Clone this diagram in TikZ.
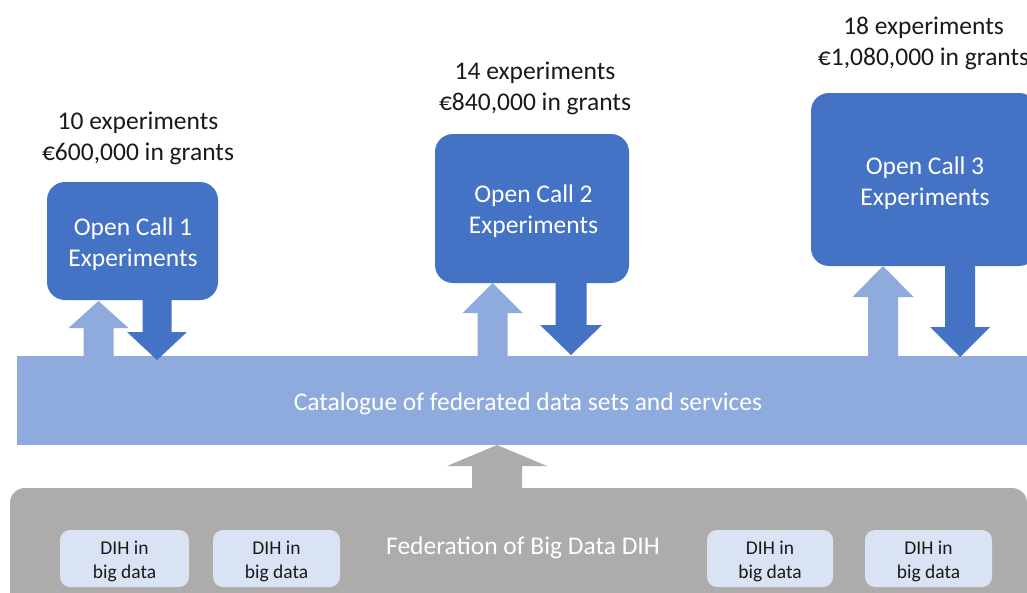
\documentclass[tikz,border=0pt]{standalone}
\usepackage{fontspec}
\setmainfont{Carlito}
\definecolor{darkblue}{HTML}{4472C4}
\definecolor{lightblue}{HTML}{8FAADC}
\definecolor{fedgray}{HTML}{AEABAB}
\definecolor{dihfill}{HTML}{DAE3F3}
\definecolor{labeltext}{HTML}{1A1A1A}
\tikzset{
  callbox/.style={draw=none, fill=darkblue, rounded corners=18pt, inner sep=0pt},
  dihbox/.style={draw=none, fill=dihfill, rounded corners=10pt, inner sep=0pt, minimum height=57pt},
  dihtext/.style={text=labeltext, align=center, font=\fontsize{19.5}{24}\selectfont, inner sep=0pt},
  infolabel/.style={text=labeltext, align=center, font=\fontsize{25.5}{31}\selectfont, inner sep=0pt},
  bigtext/.style={text=white, align=center, font=\fontsize{25.5}{31}\selectfont, inner sep=0pt},
  uparrow/.style={fill=lightblue, draw=none},
  downarrow/.style={fill=darkblue, draw=none},
  grayarrow/.style={fill=fedgray, draw=none}
}
\begin{document}
\begin{tikzpicture}[x=1pt,y=-1pt]
\useasboundingbox (0,0) rectangle (1027,592);
\clip (0,0) rectangle (1027,592);
\fill[white] (0,0) rectangle (1027,592);
% federation base
\fill[fedgray, rounded corners=15pt] (10,488) rectangle (1027,620);
\node[bigtext] (fed) at (523,547.5) {Federation of Big Data DIH};
% gray arrow to catalogue
\fill[grayarrow] (472,488) -- (472,466) -- (447,466) -- (497,445) -- (547,466) -- (522,466) -- (522,488) -- cycle;
% catalogue bar
\fill[lightblue] (17,356) rectangle (1027,445);
\node[bigtext] (cat) at (528,403.5) {Catalogue of federated data sets and services};
% DIH boxes
\node[dihbox, minimum width=129pt] (d1) at (124.5,558.5) {};
\node[dihbox, minimum width=127pt] (d2) at (276.5,558.5) {};
\node[dihbox, minimum width=126pt] (d3) at (770,558.5) {};
\node[dihbox, minimum width=127pt] (d4) at (928.5,558.5) {};
\node[dihtext] (dt1) at (124.5,561) {DIH in\\big data};
\node[dihtext] (dt2) at (276.5,561) {DIH in\\big data};
\node[dihtext] (dt3) at (770,561) {DIH in\\big data};
\node[dihtext] (dt4) at (928.5,561) {DIH in\\big data};
% open call boxes
\node[callbox, minimum width=171pt, minimum height=118pt] (oc1) at (132.5,241) {};
\node[callbox, minimum width=194pt, minimum height=149pt] (oc2) at (532,208.5) {};
\node[callbox, minimum width=226pt, minimum height=173pt] (oc3) at (924,179.5) {};
\node[bigtext] (t1) at (133,244) {Open Call 1\\Experiments};
\node[bigtext] (t2) at (533.5,211.5) {Open Call 2\\Experiments};
\node[bigtext] (t3) at (925,183) {Open Call 3\\Experiments};
% labels
\node[infolabel] (l1) at (138,138) {10 experiments\\€600,000 in grants};
\node[infolabel] (l2) at (535,88.5) {14 experiments\\€840,000 in grants};
\node[infolabel] (l3) at (923.5,43.5) {18 experiments\\€1,080,000 in grants};
% arrows call 1
\fill[uparrow] (83.5,356) -- (83.5,328) -- (68.5,328) -- (98.5,301) -- (128.5,328) -- (113.5,328) -- (113.5,356) -- cycle;
\fill[downarrow] (142.5,300) -- (142.5,332) -- (127,332) -- (157,360) -- (187,332) -- (171.5,332) -- (171.5,300) -- cycle;
% arrows call 2
\fill[uparrow] (477.5,356) -- (477.5,313) -- (462.5,313) -- (492.5,283) -- (522.5,313) -- (507.5,313) -- (507.5,356) -- cycle;
\fill[downarrow] (555.5,283) -- (555.5,325) -- (540,325) -- (571,355) -- (602,325) -- (586.5,325) -- (586.5,283) -- cycle;
% arrows call 3
\fill[uparrow] (868,356) -- (868,297) -- (852.5,297) -- (883,266) -- (913.5,297) -- (898,297) -- (898,356) -- cycle;
\fill[downarrow] (945,266) -- (945,327) -- (930,327) -- (960,357) -- (990,327) -- (975,327) -- (975,266) -- cycle;
\end{tikzpicture}
\end{document}
